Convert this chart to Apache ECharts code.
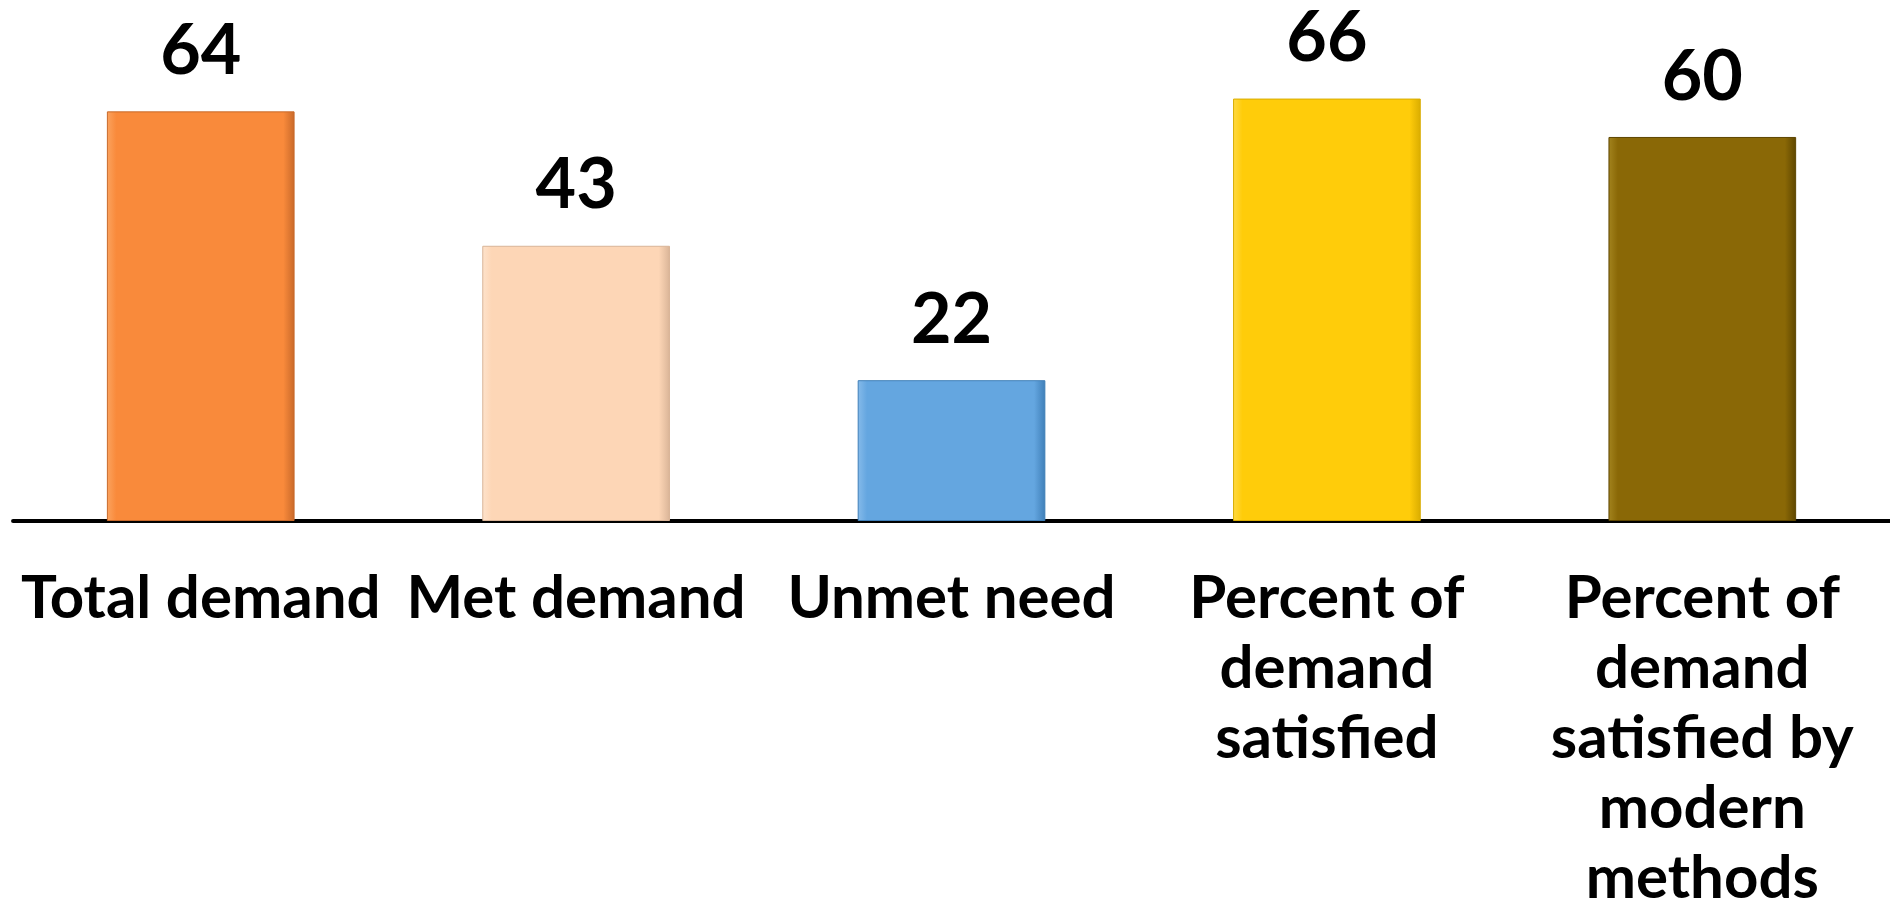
<!DOCTYPE html>
<html>
<head>
<meta charset="utf-8">
<script src="https://cdn.jsdelivr.net/npm/echarts@6/dist/echarts.min.js"></script>
<style>
html,body{margin:0;padding:0;background:#fff;overflow:hidden;width:100%;height:100%;}
#chart{width:100vw;height:100vh;}
</style>
</head>
<body>
<div id="chart"></div>
<script>
var categories = [
  "Total demand",
  "Met demand",
  "Unmet need",
  "Percent of\ndemand\nsatisfied",
  "Percent of\ndemand\nsatisfied by\nmodern\nmethods"
];
var values = [64, 43, 22, 66, 60];
var barColors = ["#F98A3B", "#FDD6B6", "#64A6E0", "#FFCC0A", "#8A6806"];
var edgeLight = ["#FBA35F", "#FEE3CC", "#86BBEA", "#FFDA45", "#A3841E"];
var edgeDark = ["#C8692A", "#D9B497", "#3F7FB8", "#D9AC00", "#5E4600"];

var chart = echarts.init(document.getElementById('chart'));
var data = values.map(function (v, i) {
  return {
    value: v,
    itemStyle: {
      color: {
        type: 'linear', x: 0, y: 0, x2: 1, y2: 0,
        colorStops: [
          { offset: 0, color: edgeLight[i] },
          { offset: 0.05, color: barColors[i] },
          { offset: 0.94, color: barColors[i] },
          { offset: 1, color: edgeDark[i] }
        ]
      },
      borderColor: edgeDark[i],
      borderWidth: 1
    }
  };
});
chart.setOption({
  animation: false,
  grid: { left: '0.69%', top: '0.98%', width: '100%', height: '57.22%', containLabel: false },
  xAxis: {
    type: 'category',
    data: categories,
    axisTick: { show: false },
    axisLine: { lineStyle: { color: '#000', width: 4 } },
    axisLabel: {
      interval: 0,
      margin: 43,
      color: '#000',
      fontFamily: 'Lato',
      fontWeight: 'bold',
      fontSize: 60,
      lineHeight: 70,
      align: 'center'
    }
  },
  yAxis: {
    type: 'value',
    min: 0,
    max: 80,
    show: false
  },
  series: [{
    type: 'bar',
    data: data,
    barCategoryGap: '50%',
    label: {
      show: true,
      position: 'top',
      distance: 25,
      color: '#000',
      fontFamily: 'Lato',
      fontWeight: 'bold',
      fontSize: 70
    }
  }]
});
window.addEventListener('resize', function () { chart.resize(); });
</script>
</body>
</html>
